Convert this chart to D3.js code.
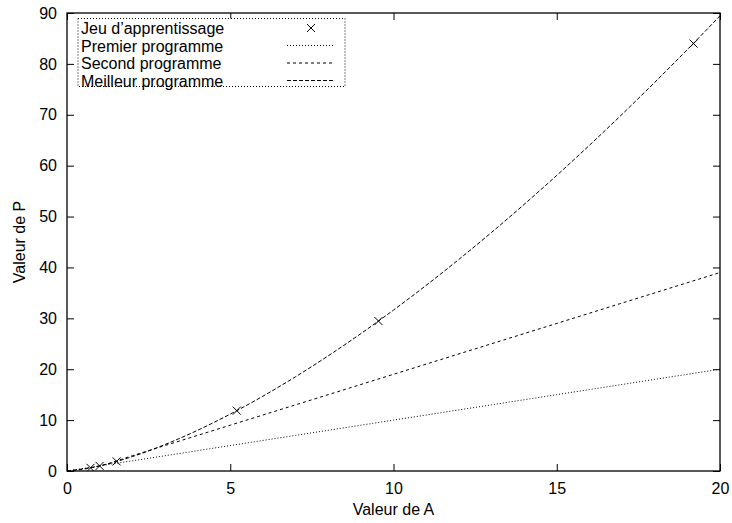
<!DOCTYPE html>
<html><head><meta charset="utf-8">
<script src="https://cdn.jsdelivr.net/npm/d3@7"></script>
<style>body{margin:0;background:#fff}svg{display:block}text{font-family:"Liberation Sans",Arial,sans-serif;font-size:16px;fill:#000}</style>
</head><body><svg id="c" width="732" height="523"></svg>
<script>
// Training set (A, P)
const trainA = [0.72, 1.0, 1.52, 5.2, 9.54, 19.19];
const trainP = [0.62, 1.0, 1.88, 11.86, 29.46, 84.0];
// Curves
const curveA = [0, 1, 2, 3, 4, 5, 6, 7, 8, 9, 10, 11, 12, 13, 14, 15, 16, 17, 18, 19, 20];
const premierP = [0, 1, 2, 3, 4, 5, 6, 7, 8, 9, 10, 11, 12, 13, 14, 15, 16, 17, 18, 19, 20];
const secondA = [0, 0.5, 1, 2, 3, 5, 10, 15, 20];
const secondP = [0, 0.35, 1, 3, 5, 9, 19, 29, 39];
const meilleurP = [0, 1, 2.83, 5.2, 8, 11.18, 14.7, 18.52, 22.63, 27, 31.62, 36.48, 41.57, 46.87, 52.38, 58.09, 64, 70.09, 76.37, 82.82, 89.44];
const xTicks = [0, 5, 10, 15, 20];
const yTicks = [0, 10, 20, 30, 40, 50, 60, 70, 80, 90];
const legendLabels = ["Jeu d\u2019apprentissage", "Premier programme", "Second programme", "Meilleur programme"];

const svg = d3.select("#c");
const L = 67, R = 720, T = 13, B = 471;
const x = d3.scaleLinear().domain([0, 20]).range([L, R]);
const y = d3.scaleLinear().domain([0, 90]).range([B, T]);

const defs = svg.append("defs");
defs.append("clipPath").attr("id", "clip").append("rect")
  .attr("x", L).attr("y", T).attr("width", R - L).attr("height", B - T);

// axes with inward ticks
const tl = 7;
svg.append("g").attr("transform", `translate(0,${B})`)
  .call(d3.axisBottom(x).tickValues(xTicks).tickSize(-tl).tickPadding(12).tickFormat(d3.format("d")))
  .call(g => { g.select(".domain").remove(); });
svg.append("g").attr("transform", `translate(0,${T})`)
  .call(d3.axisTop(x).tickValues(xTicks).tickSize(-tl).tickFormat(""))
  .call(g => { g.select(".domain").remove(); });
svg.append("g").attr("transform", `translate(${L},0)`)
  .call(d3.axisLeft(y).tickValues(yTicks).tickSize(-tl).tickPadding(10).tickFormat(d3.format("d")))
  .call(g => { g.select(".domain").remove(); });
svg.append("g").attr("transform", `translate(${R},0)`)
  .call(d3.axisRight(y).tickValues(yTicks).tickSize(-tl).tickFormat(""))
  .call(g => { g.select(".domain").remove(); });
svg.selectAll(".tick line").attr("stroke", "#000");
svg.selectAll(".tick text").attr("font-size", 16).attr("font-family", "Liberation Sans, Arial, sans-serif");

svg.append("rect").attr("x", L).attr("y", T).attr("width", R - L).attr("height", B - T)
  .attr("fill", "none").attr("stroke", "#000").attr("stroke-width", 1.3);

svg.append("text").attr("x", (L + R) / 2).attr("y", 515).attr("text-anchor", "middle").text("Valeur de A");
svg.append("text").attr("transform", `translate(25,${(T + B) / 2}) rotate(-90)`).attr("text-anchor", "middle").text("Valeur de P");

const line = d3.line().x(d => x(d[0])).y(d => y(d[1])).curve(d3.curveMonotoneX);
const plot = svg.append("g").attr("clip-path", "url(#clip)");
const styles = [null, "1,2", "3,3", "4,2"];
plot.append("path").datum(curveA.map((a, i) => [a, premierP[i]])).attr("d", line)
  .attr("fill", "none").attr("stroke", "#000").attr("stroke-dasharray", styles[1]);
plot.append("path").datum(secondA.map((a, i) => [a, secondP[i]])).attr("d", line)
  .attr("fill", "none").attr("stroke", "#000").attr("stroke-dasharray", styles[2]);
plot.append("path").datum(curveA.map((a, i) => [a, meilleurP[i]])).attr("d", line)
  .attr("fill", "none").attr("stroke", "#000").attr("stroke-dasharray", styles[3]);

function cross(g, cx, cy) {
  const s = 4;
  g.append("path").attr("d", `M${cx - s},${cy - s}L${cx + s},${cy + s}M${cx - s},${cy + s}L${cx + s},${cy - s}`)
    .attr("stroke", "#000").attr("stroke-width", 1);
}
trainA.forEach((a, i) => cross(plot, x(a), y(trainP[i])));

// legend
const lg = svg.append("g");
lg.append("rect").attr("x", 78).attr("y", 18.5).attr("width", 267).attr("height", 68)
  .attr("fill", "#fff").attr("stroke", "#000").attr("stroke-dasharray", "1,2");
legendLabels.forEach((lab, i) => {
  const yy = 28 + i * 17.5;
  lg.append("text").attr("x", 81).attr("y", yy + 6).text(lab);
  if (i === 0) cross(lg, 311, yy);
  else lg.append("line").attr("x1", 287).attr("x2", 335).attr("y1", yy).attr("y2", yy)
    .attr("stroke", "#000").attr("stroke-dasharray", styles[i]);
});
</script></body></html>
